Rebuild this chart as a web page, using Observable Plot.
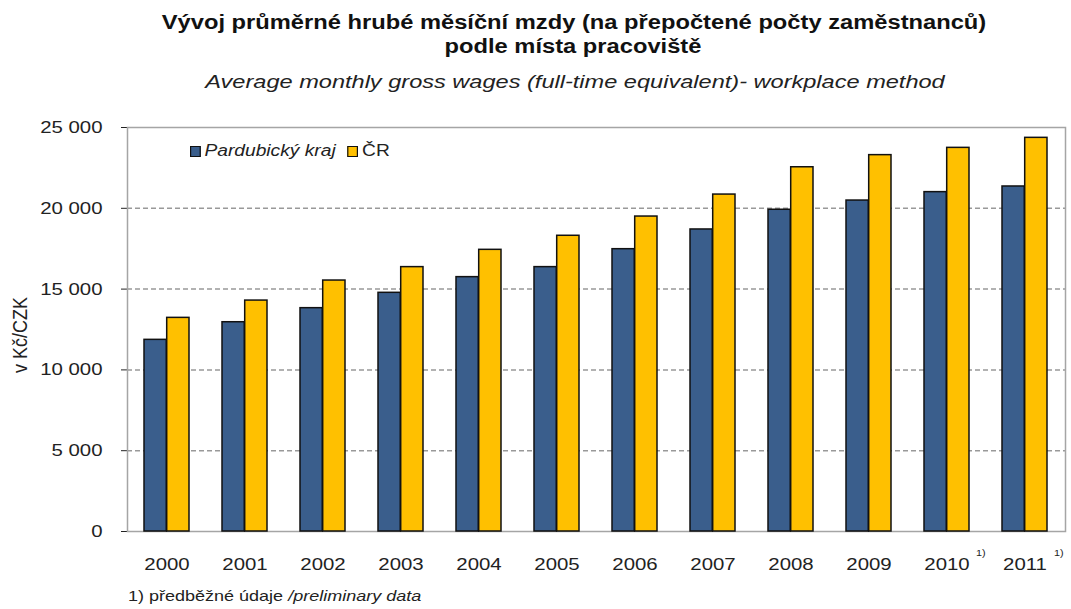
<!DOCTYPE html>
<html>
<head>
<meta charset="utf-8">
<script src="https://cdn.jsdelivr.net/npm/d3@7"></script>
<script src="https://cdn.jsdelivr.net/npm/@observablehq/plot@0.6"></script>
<style>
  html, body { margin: 0; padding: 0; background: #fff; }
  body { width: 1071px; height: 609px; position: relative; overflow: hidden; font-family: "Liberation Sans", Arial, sans-serif; color: #111; }
  .c { position: absolute; white-space: nowrap; transform-origin: center; }
  .t1 { font-weight: bold; font-size: 20px; transform: translateX(-50%) scaleX(1.185); }
  .sub { font-style: italic; font-size: 19px; transform: translateX(-50%) scaleX(1.24); color: #222; }
  #chart { position: absolute; left: 0; top: 110px; }
  .ytitle { position: absolute; left: 21px; top: 335px; transform: translate(-50%, -50%) rotate(-90deg) scaleY(1.1); font-size: 18px; white-space: nowrap; color: #222; }
  .legend { position: absolute; left: 190px; top: 142px; font-size: 16px; display: flex; align-items: center; transform: scaleX(1.2); transform-origin: left center; color: #222; }
  .sw { display: inline-block; width: 7px; height: 9px; border: 1px solid #111; margin-right: 3px; }
  .foot { position: absolute; left: 128px; top: 587px; font-size: 15px; transform: scaleX(1.2); transform-origin: left center; white-space: nowrap; color: #222; }
</style>
</head>
<body>
<div class="c t1" style="left:574px; top:11px">Vývoj průměrné hrubé měsíční mzdy (na přepočtené počty zaměstnanců)</div>
<div class="c t1" style="left:573px; top:35px">podle místa pracoviště</div>
<div class="c sub" style="left:575px; top:71px">Average monthly gross wages (full-time equivalent)- workplace method</div>
<div id="chart"></div>
<div class="ytitle">v Kč/CZK</div>
<div class="legend">
  <span class="sw" style="background:#3A5E8C"></span><i>Pardubický kraj</i>
  <span class="sw" style="background:#FFC000; margin-left:10px"></span>ČR
</div>
<div class="foot">1) předběžné údaje <i>/preliminary data</i></div>
<script>
const years = ["2000","2001","2002","2003","2004","2005","2006","2007","2008","2009","2010","2011"];
const pardubicky = [11860, 12950, 13820, 14770, 15740, 16360, 17470, 18690, 19910, 20480, 21000, 21350];
const cr = [13220, 14290, 15530, 16360, 17430, 18300, 19490, 20850, 22540, 23290, 23740, 24360];
const yTicks = [0, 5000, 10000, 15000, 20000, 25000];
const gridTicks = [5000, 10000, 15000, 20000];
const footnotedYears = ["2010", "2011"];
const footnoteMark = "1)";

const rows = years.map((y, i) => ({year: y, pardubicky: pardubicky[i], cr: cr[i]}));
const locale = d3.formatLocale({decimal: ",", thousands: " ", grouping: [3], currency: ["", ""]});
const fmt = locale.format(",");

const chart = Plot.plot({
  width: 1071,
  height: 470,
  marginLeft: 127,
  marginRight: 6,
  marginTop: 17,
  marginBottom: 49,
  style: {fontFamily: "Liberation Sans, Arial, sans-serif", fontSize: "17px", color: "#222", background: "transparent"},
  x: {domain: years, paddingInner: 0.42, paddingOuter: 0.21, label: null, tickSize: 0, tickPadding: 26},
  y: {domain: [0, 25000], ticks: yTicks, tickFormat: fmt, label: null, tickSize: 6, tickPadding: 19},
  marks: [
    Plot.ruleY(gridTicks, {stroke: "#999", strokeDasharray: "5,3", strokeWidth: 1.5}),
    Plot.frame({stroke: "#a5a5a5", strokeWidth: 1.5}),
    Plot.barY(rows, {x: "year", y: "pardubicky", fill: "#3A5E8C", stroke: "#111", strokeWidth: 1.5, insetRight: 22.7}),
    Plot.barY(rows, {x: "year", y: "cr", fill: "#FFC000", stroke: "#111", strokeWidth: 1.5, insetLeft: 22.7}),
    Plot.text(footnotedYears, {x: d => d, y: () => 0, text: () => footnoteMark, dx: 29, dy: 22, fontSize: 9, textAnchor: "start", fill: "#222"})
  ]
});
// Stretch SVG text horizontally about its anchor to match the reference's wide lettering
chart.querySelectorAll("text").forEach(el => {
  const x = +(el.getAttribute("x") || 0);
  const t = el.getAttribute("transform") || "";
  el.setAttribute("transform", `${t} translate(${x},0) scale(1.2,1) translate(${-x},0)`);
});
document.getElementById("chart").appendChild(chart);
</script>
</body>
</html>
